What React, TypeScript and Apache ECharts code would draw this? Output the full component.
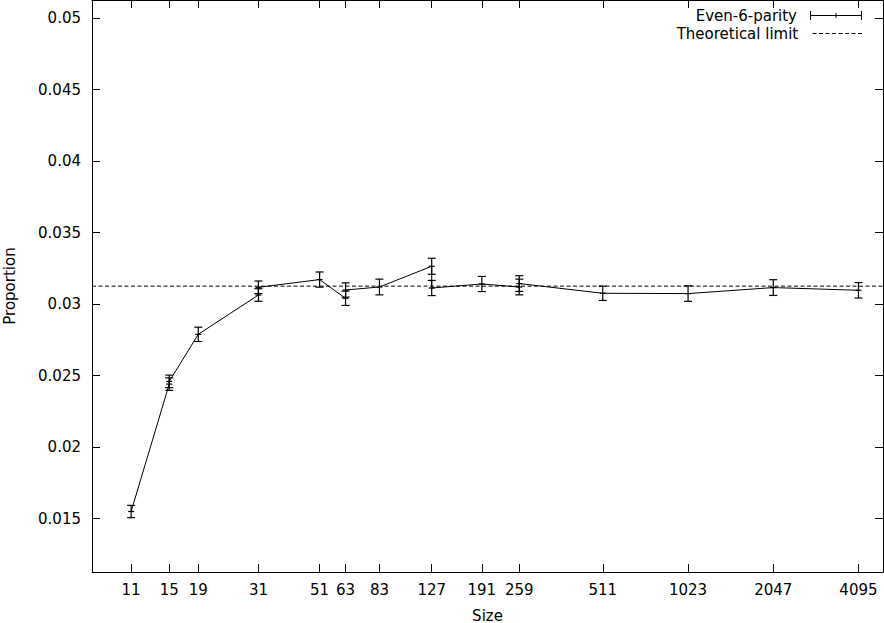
import React, { useEffect, useRef } from "react";
import * as echarts from "echarts";

// tick labels
const sizeTicks = [11, 15, 19, 31, 51, 63, 83, 127, 191, 259, 511, 1023, 2047, 4095];
const proportionTicks = [0.015, 0.02, 0.025, 0.03, 0.035, 0.04, 0.045, 0.05];

// Even-6-parity runs (in plotting order, some sizes appear twice)
const sizes = [11, 15, 15, 19, 31, 31, 51, 63, 63, 83, 127, 127, 191, 259, 259, 511, 1023, 2047, 4095];
const means = [
    0.01549, 0.0244, 0.02459, 0.02788, 0.03063, 0.03117, 0.03171, 0.0304, 0.03098, 0.03119,
    0.03264, 0.03112, 0.0314, 0.03119, 0.03143, 0.03075, 0.03073, 0.03115, 0.03096,
];
const errors = [
    0.00043, 0.00044, 0.00044, 0.0005, 0.00044, 0.00044, 0.00053, 0.0005, 0.0005, 0.00055,
    0.00056, 0.00053, 0.00053, 0.00055, 0.00055, 0.0005, 0.00054, 0.00055, 0.00054,
];

const theoreticalLimit = 1 / 32;

const xMin = 8;
const xMax = 5000;
const yMin = 0.01126;
const yMax = 0.05126;

const log2 = (v: number) => Math.log2(v);

// legend icons drawn as filled paths
const errorIcon = "path://M0,0h1v9h-1z M0,4h52v1h-52z M25.5,2h1v5h-1z M51,0h1v9h-1z";
let dashPath = "";
for (let x = 0; x < 52; x += 6.5) dashPath += `M${x},0h4v1h-4z `;
const dashIcon = "path://" + dashPath.trim();

const tickStyle = { inside: true, length: 8, lineStyle: { color: "#000", width: 1 } };
const lineStyle = { lineStyle: { color: "#000", width: 1 } };

const App: React.FC = () => {
    const chartRef = useRef<HTMLDivElement>(null);

    useEffect(() => {
        if (!chartRef.current) return;
        const chart = echarts.init(chartRef.current, null, { renderer: "svg" });

        const xTicks = sizeTicks.map(log2);

        const options = {
            animation: false,
            textStyle: { fontFamily: "DejaVu Sans", fontSize: 15, color: "#000" },
            grid: { left: 92, right: 1, top: 0, bottom: 51, containLabel: false, outerBoundsMode: "none" },
            legend: [
                {
                    data: [{ name: "Even-6-parity", icon: errorIcon }],
                    right: 22,
                    top: 8,
                    padding: 0,
                    align: "right",
                    itemWidth: 52,
                    itemHeight: 9,
                    selectedMode: false,
                    itemStyle: { color: "#000" },
                    textStyle: { fontFamily: "DejaVu Sans", fontSize: 15, color: "#000", padding: [0, 8, 0, 0] },
                },
                {
                    data: [{ name: "Theoretical limit", icon: dashIcon }],
                    right: 22,
                    top: 26,
                    padding: 0,
                    align: "right",
                    itemWidth: 52,
                    itemHeight: 1,
                    selectedMode: false,
                    itemStyle: { color: "#000" },
                    textStyle: { fontFamily: "DejaVu Sans", fontSize: 15, color: "#000", padding: [0, 8, 0, 0] },
                },
            ],
            xAxis: [
                {
                    type: "value",
                    min: log2(xMin),
                    max: log2(xMax),
                    name: "Size",
                    nameLocation: "middle",
                    nameGap: 36,
                    nameTextStyle: { fontSize: 15, color: "#000" },
                    axisLine: lineStyle,
                    axisTick: { ...tickStyle, customValues: xTicks },
                    axisLabel: {
                        customValues: xTicks,
                        margin: 10,
                        color: "#000",
                        fontSize: 15,
                        formatter: (v: number) => String(Math.round(Math.pow(2, v))),
                    },
                    splitLine: { show: false },
                },
                {
                    type: "value",
                    position: "top",
                    min: log2(xMin),
                    max: log2(xMax),
                    axisLine: lineStyle,
                    axisTick: { ...tickStyle, customValues: xTicks },
                    axisLabel: { show: false },
                    splitLine: { show: false },
                },
            ],
            yAxis: [
                {
                    type: "value",
                    min: yMin,
                    max: yMax,
                    name: "Proportion",
                    nameLocation: "middle",
                    nameGap: 75,
                    nameTextStyle: { fontSize: 15, color: "#000" },
                    axisLine: { show: true, ...lineStyle },
                    axisTick: { ...tickStyle, customValues: proportionTicks },
                    axisLabel: {
                        customValues: proportionTicks,
                        margin: 11,
                        color: "#000",
                        fontSize: 15,
                        formatter: (v: number) => String(+v.toFixed(3)),
                    },
                    splitLine: { show: false },
                },
                {
                    type: "value",
                    position: "right",
                    min: yMin,
                    max: yMax,
                    axisLine: { show: true, ...lineStyle },
                    axisTick: { ...tickStyle, customValues: proportionTicks },
                    axisLabel: { show: false },
                    splitLine: { show: false },
                },
            ],
            series: [
                {
                    name: "Even-6-parity",
                    type: "custom",
                    itemStyle: { color: "#000" },
                    encode: { x: 0, y: [1, 2] },
                    data: sizes.map((s, i) => [log2(s), means[i] - errors[i], means[i] + errors[i], means[i]]),
                    renderItem: (params: any, api: any) => {
                        const x = api.value(0);
                        const top = api.coord([x, api.value(2)]);
                        const bot = api.coord([x, api.value(1)]);
                        const mid = api.coord([x, api.value(3)]);
                        const style = { stroke: "#000", lineWidth: 1.2, fill: null };
                        const cap = 4;
                        return {
                            type: "group",
                            children: [
                                { type: "line", shape: { x1: top[0], y1: top[1], x2: bot[0], y2: bot[1] }, style },
                                { type: "line", shape: { x1: top[0] - cap, y1: top[1], x2: top[0] + cap, y2: top[1] }, style },
                                { type: "line", shape: { x1: bot[0] - cap, y1: bot[1], x2: bot[0] + cap, y2: bot[1] }, style },
                                { type: "line", shape: { x1: mid[0] - 3, y1: mid[1], x2: mid[0] + 3, y2: mid[1] }, style },
                            ],
                        };
                    },
                },
                {
                    name: "Even-6-parity",
                    type: "line",
                    data: sizes.map((s, i) => [log2(s), means[i]]),
                    symbol: "none",
                    color: "#000",
                    lineStyle: { color: "#000", width: 1 },
                },
                {
                    name: "Theoretical limit",
                    type: "line",
                    data: [
                        [log2(xMin), theoreticalLimit],
                        [log2(xMax), theoreticalLimit],
                    ],
                    symbol: "none",
                    color: "#000",
                    lineStyle: { color: "#000", width: 1, type: [4, 2.5] },
                },
            ],
        };

        chart.setOption(options as any);

        return () => {
            chart.dispose();
        };
    }, []);

    return (
        <div
            ref={chartRef}
            style={{ position: "fixed", left: 0, top: 0, width: "884px", height: "623px", background: "#fff" }}
        />
    );
};

export default App;
